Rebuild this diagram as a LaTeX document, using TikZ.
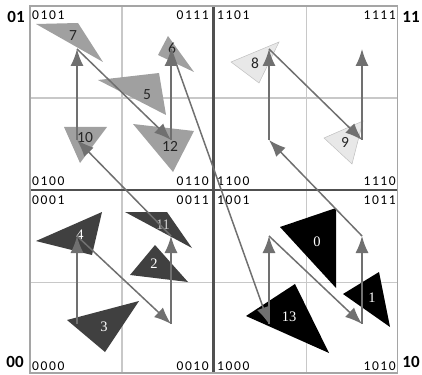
\documentclass[tikz,border=0pt]{standalone}
\usepackage{fontspec}
\setmainfont{Carlito}
\newfontfamily\cellfont[LetterSpace=12]{Carlito}
\newfontfamily\whitefont{Liberation Serif}
\usepackage{xcolor}
\usetikzlibrary{arrows.meta}
\definecolor{arrowgray}{RGB}{112,112,112}
\definecolor{gridlight}{RGB}{200,200,200}
\definecolor{griddark}{RGB}{80,80,80}
\definecolor{outergray}{RGB}{165,165,165}
\definecolor{trimid}{RGB}{160,160,160}
\definecolor{trilight}{RGB}{232,232,232}
\definecolor{tridark}{RGB}{64,64,64}

\begin{document}
\begin{tikzpicture}[x=1pt, y=-1pt,
    flow/.style={draw=arrowgray, line width=1.5pt, -{Latex[length=17pt, width=13pt]}},
    cell/.style={inner sep=0pt, font=\cellfont\fontsize{13.5}{14}\selectfont},
    quad/.style={inner sep=0pt, font=\bfseries\fontsize{17}{18}\selectfont},
    darklab/.style={inner sep=0pt, text=black!85, font=\fontsize{15.5}{16}\selectfont},
    whitelab/.style={inner sep=0pt, text=white, font=\whitefont\fontsize{14.5}{15}\selectfont}
]
    \useasboundingbox (0,0) rectangle (422,374);

    % Raster
    \draw[gridlight, line width=1.2pt] (122,6) -- (122,373) (306.5,6) -- (306.5,373)
        (30,98) -- (397.5,98) (30,282.5) -- (397.5,282.5);
    \draw[griddark, line width=2.6pt] (213.5,6) -- (213.5,373) (30,190) -- (397.5,190);
    \draw[outergray, line width=1.6pt] (30,6) rectangle (397.5,373);

    % Dreiecke oben links
    \fill[trimid] (36,24) -- (78,23) -- (103,62) -- cycle;
    \fill[trimid] (168,36) -- (158,55) -- (194,72) -- cycle;
    \fill[trimid] (98,80) -- (159,73) -- (166,115) -- cycle;
    \fill[trimid] (64,127) -- (107,127) -- (80,163) -- cycle;
    \fill[trimid] (133,124) -- (194,131) -- (173,172) -- cycle;
    % Dreiecke oben rechts
    \filldraw[fill=trilight, draw=black!25, line width=0.5pt] (231,62) -- (279,42) -- (259,83) -- cycle;
    \filldraw[fill=trilight, draw=black!25, line width=0.5pt] (324,138) -- (363,121) -- (352,164) -- cycle;
    % Dreiecke unten links
    \fill[tridark] (36,241) -- (102,212) -- (92,255) -- cycle;
    \fill[tridark] (125,212) -- (167,212) -- (192,248) -- cycle;
    \fill[tridark] (155,245) -- (130,275) -- (188,282) -- cycle;
    \fill[tridark] (67,320) -- (139,301) -- (105,352) -- cycle;
    % Dreiecke unten rechts
    \fill[black] (280,227) -- (336,208) -- (336,288) -- cycle;
    \fill[black] (343,294) -- (379,272) -- (390,327) -- cycle;
    \fill[black] (246,316) -- (295,284) -- (329,353) -- cycle;

    % Nummern
    \node[darklab] (t7) at (73,36) {7};
    \node[darklab] (t6) at (172,48) {6};
    \node[darklab] (t5) at (147,95) {5};
    \node[darklab] (t10) at (85,138) {10};
    \node[darklab] (t12) at (170,146) {12};
    \node[darklab] (t8) at (255,63) {8};
    \node[darklab] (t9) at (345,142) {9};
    \node[whitelab] (t4) at (80,235) {4};
    \node[whitelab, text=black!20] (t11) at (163,225) {11};
    \node[whitelab] (t2) at (154,264) {2};
    \node[whitelab] (t3) at (104,327) {3};
    \node[whitelab] (t0) at (317,242) {0};
    \node[whitelab] (t1) at (372,298) {1};
    \node[whitelab] (t13) at (289,317) {13};

    % Zellcodes
    \node[cell, anchor=base west] (c0101) at (32,20) {0101};
    \node[cell, anchor=base east] (c0111) at (209,20) {0111};
    \node[cell, anchor=base west] (c0100) at (32,185) {0100};
    \node[cell, anchor=base east] (c0110) at (209,185) {0110};
    \node[cell, anchor=base west] (c1101) at (217,20) {1101};
    \node[cell, anchor=base east] (c1111) at (396,20) {1111};
    \node[cell, anchor=base west] (c1100) at (217,185) {1100};
    \node[cell, anchor=base east] (c1110) at (396,185) {1110};
    \node[cell, anchor=base west] (c0001) at (32,204) {0001};
    \node[cell, anchor=base east] (c0011) at (209,204) {0011};
    \node[cell, anchor=base west] (c0000) at (32,370) {0000};
    \node[cell, anchor=base east] (c0010) at (209,370) {0010};
    \node[cell, anchor=base west] (c1001) at (217,204) {1001};
    \node[cell, anchor=base east] (c1011) at (396,204) {1011};
    \node[cell, anchor=base west] (c1000) at (217,370) {1000};
    \node[cell, anchor=base east] (c1010) at (396,370) {1010};

    % Quadranten
    \node[quad] (q01) at (16,17) {01};
    \node[quad] (q11) at (411,17) {11};
    \node[quad] (q00) at (15,362) {00};
    \node[quad] (q10) at (411,362) {10};

    % Punkte der Z-Kurve
    \foreach \a in {0,1} {
        \foreach \b in {0,1} {
            \foreach \c in {0,1} {
                \foreach \d in {0,1} {
                    \pgfmathsetmacro\px{{77,171,269,362}[2*\a+\c]}
                    \pgfmathsetmacro\py{{324,236,140,49}[2*\b+\d]}
                    \coordinate (p\a\b\c\d) at (\px,\py);
                }
            }
        }
    }

    % Pfeile
    \foreach \s/\t in {0000/0001, 0001/0010, 0010/0011, 0011/0100, 0100/0101, 0101/0110,
        0110/0111, 0111/1000, 1000/1001, 1001/1010, 1010/1011, 1011/1100,
        1100/1101, 1101/1110, 1110/1111} {
        \draw[flow] (p\s) -- (p\t);
    }
\end{tikzpicture}
\end{document}
